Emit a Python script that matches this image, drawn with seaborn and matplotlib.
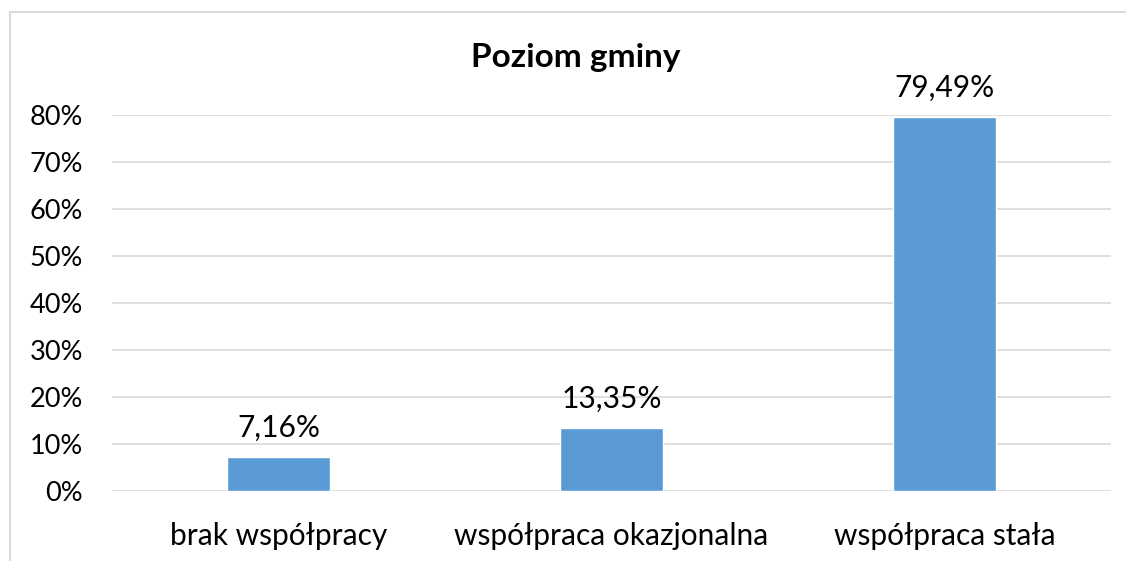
import matplotlib
matplotlib.use("Agg")
import matplotlib.pyplot as plt
import seaborn as sns
import pandas as pd
from matplotlib.lines import Line2D
from matplotlib.ticker import FuncFormatter

categories = ["brak współpracy", "współpraca okazjonalna", "współpraca stała"]
values = [0.0716, 0.1335, 0.7949]
value_labels = ["7,16%", "13,35%", "79,49%"]
title = "Poziom gminy"

sns.set_theme(style="white")
plt.rcParams["font.family"] = ["Lato", "DejaVu Sans"]

df = pd.DataFrame({"cat": categories, "val": values})

fig = plt.figure(figsize=(11.26, 5.61), dpi=100)
ax = fig.add_axes([112/1126, 1-491/561, (1111-112)/1126, (491-115)/561])

sns.barplot(data=df, x="cat", y="val", color="#5B9BD5", width=0.31,
            saturation=1, ax=ax, zorder=3)

ax.set_ylim(0, 0.8)
ax.set_xlim(-0.5, 2.5)
ax.set_yticks([i/10 for i in range(9)])
ax.yaxis.set_major_formatter(FuncFormatter(lambda v, p: f"{round(v*100)}%"))
ax.grid(axis="y", color="#d9d9d9", linewidth=1.2, zorder=0)
ax.set_axisbelow(True)
for s in ax.spines.values():
    s.set_visible(False)
ax.set_xlabel("")
ax.set_ylabel("")
ax.tick_params(axis="y", labelsize=19.5, pad=21, length=0, colors="black")
ax.tick_params(axis="x", labelsize=21.5, pad=22, length=0, colors="black")

for i, (v, lab) in enumerate(zip(values, value_labels)):
    ax.annotate(lab, (i, v), xytext=(0, 11), textcoords="offset points",
                ha="center", va="bottom", fontsize=21.5, color="black")

fig.text(576/1126, 1-57/561, title, ha="center", va="center",
         fontsize=24, fontweight="bold", color="black")

fig.add_artist(Line2D([10/1126, 1], [1-12/561, 1-12/561], color="#d9d9d9",
                      linewidth=1.5, transform=fig.transFigure))
fig.add_artist(Line2D([10/1126, 10/1126], [0, 1-12/561], color="#d9d9d9",
                      linewidth=1.5, transform=fig.transFigure))

fig.savefig("out.png", dpi=100, facecolor="white")
